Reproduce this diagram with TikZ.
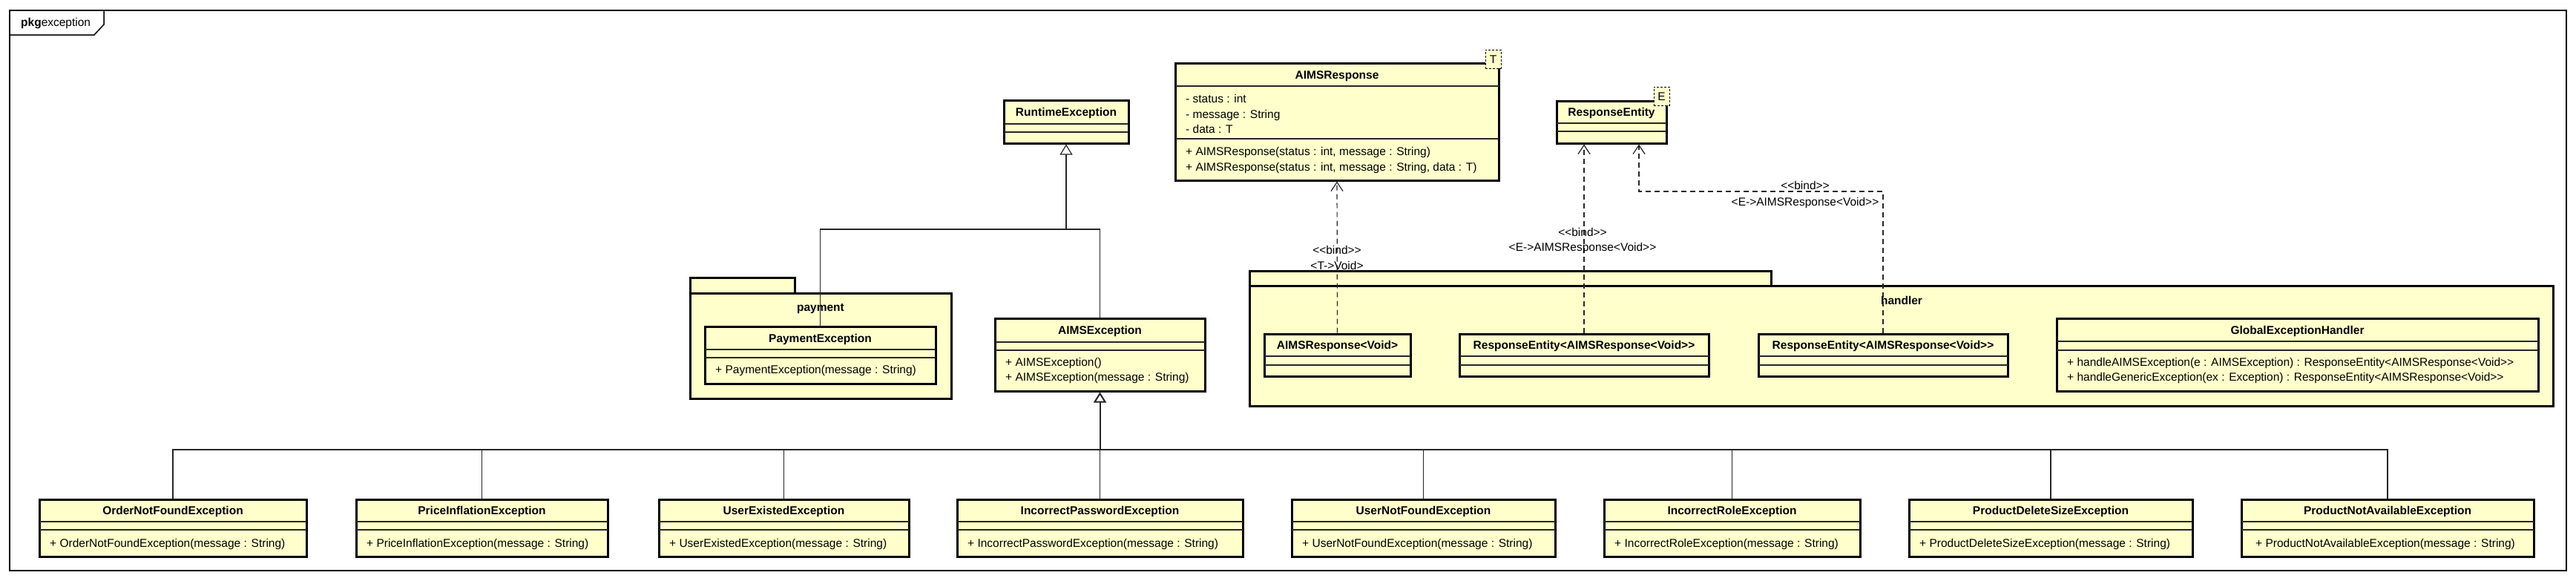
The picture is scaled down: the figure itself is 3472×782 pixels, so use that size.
\documentclass[tikz,border=0pt]{standalone}
\usepackage{fontspec}
\setmainfont{Liberation Sans}
\newfontfamily\umlfont{Liberation Sans}
\usetikzlibrary{arrows.meta,fit,calc}
\definecolor{umlfill}{RGB}{255,255,204}
\pgfdeclarelayer{pkglayer}
\pgfdeclarelayer{connlayer}
\pgfsetlayers{pkglayer,connlayer,main}
\tikzset{
  box/.style={draw=black, line width=3pt, fill=umlfill, inner sep=0pt},
  pkgbox/.style={draw=black, line width=3pt, fill=umlfill, inner sep=0pt},
  tplbox/.style={draw=black, line width=1pt, dash pattern=on 3pt off 2pt, fill=umlfill, inner sep=0pt},
  sepline/.style={line width=1.2pt, draw=black!85},
  ttl/.style={font=\umlfont\fontsize{15.5}{18}\selectfont\bfseries, inner sep=0pt, text height=11pt, text depth=0pt},
  mem/.style={font=\umlfont\fontsize{15.5}{18}\selectfont, inner sep=0pt, anchor=west, text height=11pt, text depth=0pt},
  lbl/.style={font=\umlfont\fontsize{15.5}{18}\selectfont, inner sep=0pt, text height=11pt, text depth=0pt},
  conn/.style={line width=1.2pt, draw=black!85},
  gen/.style={conn, -{Triangle[length=14pt,width=17pt,fill=white]}},
  dep/.style={conn, dash pattern=on 7pt off 5pt, -{Straight Barb[length=12pt,width=16pt]}},
}
% name, x1, y1, x2, y2, sep1, sep2, title
\newcommand\umlclass[8]{%
  \node[box, fit={(#2,#3) (#4,#5)}] (#1) {};
  \draw[sepline] (#2,#6) -- (#4,#6);
  \draw[sepline] (#2,#7) -- (#4,#7);
  \node[ttl] (#1-t) at ({(#2+#4)/2},{(#3+#6)/2}) {#8};
}
\begin{document}
\begin{tikzpicture}[x=1pt,y=-1pt]
\useasboundingbox (0,0) rectangle (3472,782);

% outer frame
\draw[line width=1.5pt] (13,14) rectangle (3459,769);
\draw[line width=1.5pt] (13,47) -- (127,47) -- (140,33) -- (140,14);
\node[mem] (pkgtitle) at (28,30) {\textbf{pkg}exception};

% packages
\begin{pgfonlayer}{pkglayer}
  \node[pkgbox, fit={(930,374) (1071,395)}] (paytab) {};
  \node[pkgbox, fit={(930,395) (1282,537)}] (paybody) {};
  \node[ttl] (paylabel) at (1106,414) {payment};
  \node[pkgbox, fit={(1684,365) (2387,385)}] (handtab) {};
  \node[pkgbox, fit={(1684,385) (3441,547)}] (handbody) {};
  \node[ttl] (handlabel) at (2563,405) {handler};
\end{pgfonlayer}

% top classes
\umlclass{rt}{1353}{135}{1521}{193}{167}{178}{RuntimeException}
\umlclass{aimsresp}{1584}{85}{2020}{243}{116}{187}{AIMSResponse}
\node[mem] (ar-m1) at (1598,133) {- status : int};
\node[mem] (ar-m2) at (1598,154) {- message : String};
\node[mem] (ar-m3) at (1598,174) {- data : T};
\node[mem] (ar-m4) at (1598,204) {+ AIMSResponse(status : int, message : String)};
\node[mem] (ar-m5) at (1598,225) {+ AIMSResponse(status : int, message : String, data : T)};
\node[tplbox, fit={(2002,67) (2023,92)}] (tplT) {};
\node[lbl] (tplT-t) at (tplT.center) {T};

\umlclass{re}{2098}{136}{2246}{193}{166}{177}{ResponseEntity}
\node[tplbox, fit={(2229,117) (2250,142)}] (tplE) {};
\node[lbl] (tplE-t) at (tplE.center) {E};

% middle classes
\umlclass{pe}{950}{440}{1261}{517}{471}{482}{PaymentException}
\node[mem] (pe-m1) at (964,498) {+ PaymentException(message : String)};
\umlclass{ae}{1341}{429}{1624}{527}{461}{472}{AIMSException}
\node[mem] (ae-m1) at (1355,488) {+ AIMSException()};
\node[mem] (ae-m2) at (1355,508) {+ AIMSException(message : String)};

\umlclass{arv}{1704}{450}{1901}{507}{480}{492}{AIMSResponse<Void>}
\umlclass{reA}{1967}{450}{2303}{507}{480}{492}{ResponseEntity<AIMSResponse<Void>>}
\umlclass{reB}{2370}{450}{2706}{507}{480}{492}{ResponseEntity<AIMSResponse<Void>>}
\umlclass{geh}{2772}{429}{3421}{527}{460}{472}{GlobalExceptionHandler}
\node[mem] (geh-m1) at (2786,488) {+ handleAIMSException(e : AIMSException) : ResponseEntity<AIMSResponse<Void>>};
\node[mem] (geh-m2) at (2786,508) {+ handleGenericException(ex : Exception) : ResponseEntity<AIMSResponse<Void>>};

% bottom row
\umlclass{b1}{53}{673}{413}{750}{703}{714}{OrderNotFoundException}
\node[mem] (b1-m) at (67,732) {+ OrderNotFoundException(message : String)};
\umlclass{b2}{480}{673}{819}{750}{703}{714}{PriceInflationException}
\node[mem] (b2-m) at (494,732) {+ PriceInflationException(message : String)};
\umlclass{b3}{888}{673}{1225}{750}{703}{714}{UserExistedException}
\node[mem] (b3-m) at (902,732) {+ UserExistedException(message : String)};
\umlclass{b4}{1290}{673}{1675}{750}{703}{714}{IncorrectPasswordException}
\node[mem] (b4-m) at (1304,732) {+ IncorrectPasswordException(message : String)};
\umlclass{b5}{1741}{673}{2096}{750}{703}{714}{UserNotFoundException}
\node[mem] (b5-m) at (1755,732) {+ UserNotFoundException(message : String)};
\umlclass{b6}{2162}{673}{2507}{750}{703}{714}{IncorrectRoleException}
\node[mem] (b6-m) at (2176,732) {+ IncorrectRoleException(message : String)};
\umlclass{b7}{2573}{673}{2955}{750}{703}{714}{ProductDeleteSizeException}
\node[mem] (b7-m) at (2587,732) {+ ProductDeleteSizeException(message : String)};
\umlclass{b8}{3021}{673}{3415}{750}{703}{714}{ProductNotAvailableException}
\node[mem] (b8-m) at (3040,732) {+ ProductNotAvailableException(message : String)};

% connectors
\begin{pgfonlayer}{connlayer}
  \coordinate (j1) at (rt.south |- 0,309);
  \draw[conn] (pe.north) |- (j1);
  \draw[conn] (ae.north) |- (j1);
  \draw[gen] (j1) -- (rt.south);

  \coordinate (j2) at (ae.south |- 0,606);
  \draw[conn] (b1.north) |- (j2);
  \draw[conn] (b2.north) |- (j2);
  \draw[conn] (b3.north) |- (j2);
  \draw[conn] (b4.north) -- (j2);
  \draw[conn] (b5.north) |- (j2);
  \draw[conn] (b6.north) |- (j2);
  \draw[conn] (b7.north) |- (j2);
  \draw[conn] (b8.north) |- (j2);
  \draw[gen, line width=2pt] (j2) -- (ae.south);

  \draw[dep] (arv.north) -- (aimsresp.south);
  \draw[dep] (reA.north) -- (reA.north |- re.south);
  \coordinate (bend) at (2209,258);
  \draw[dep] (reB.north) |- (bend) -- (bend |- re.south);
\end{pgfonlayer}

% connector labels
\node[lbl] (l1a) at (1802,337) {<<bind>>};
\node[lbl] (l1b) at (1802,358) {<T->Void>};
\node[lbl] (l2a) at (2133,313) {<<bind>>};
\node[lbl] (l2b) at (2133,333) {<E->AIMSResponse<Void>>};
\node[lbl] (l3a) at (2433,250) {<<bind>>};
\node[lbl] (l3b) at (2433,272) {<E->AIMSResponse<Void>>};
\end{tikzpicture}
\end{document}
